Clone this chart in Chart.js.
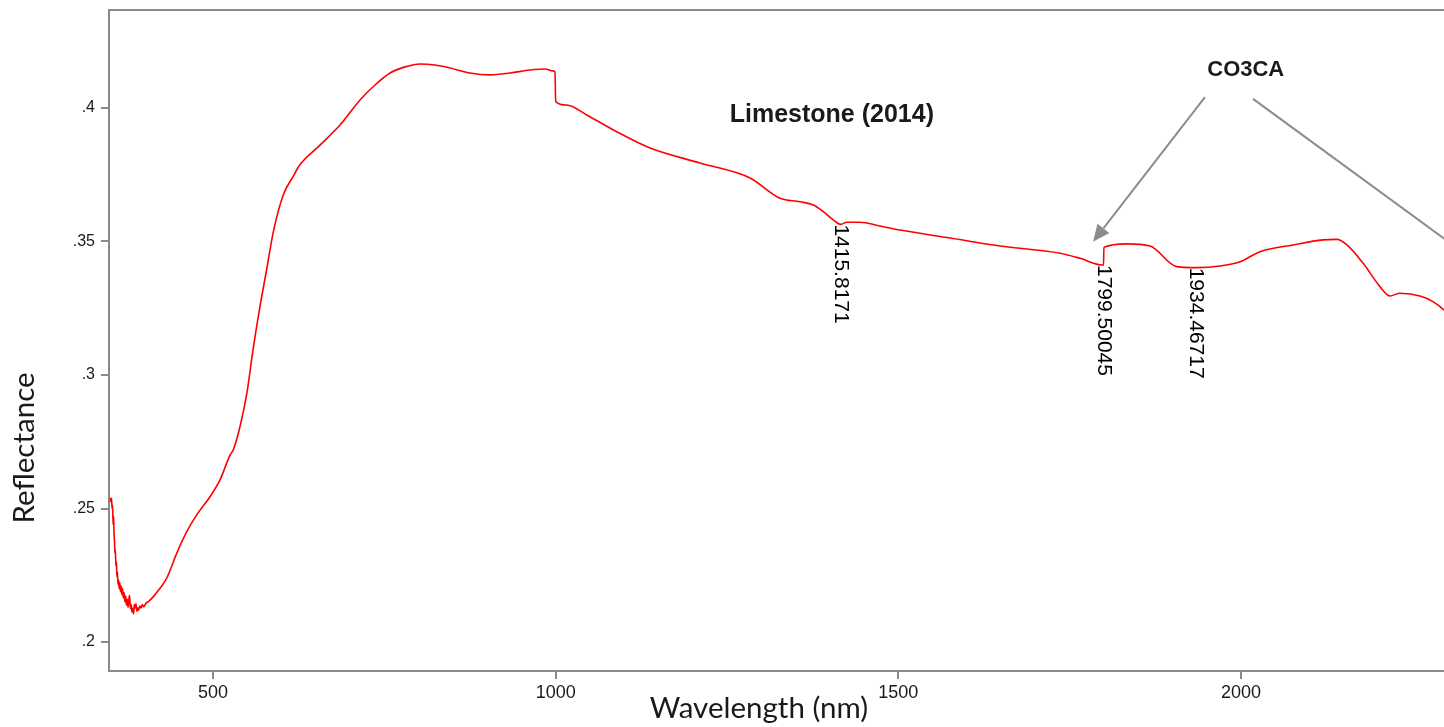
<!DOCTYPE html>
<html>
<head>
<meta charset="utf-8">
<title>Limestone (2014)</title>
<script src="https://cdn.jsdelivr.net/npm/chart.js@4/dist/chart.umd.min.js"></script>
<style>
  html, body { margin: 0; padding: 0; background: #ffffff; }
  #wrap { width: 1444px; height: 727px; position: relative; }
</style>
</head>
<body>
<div id="wrap"><canvas id="spectrum" width="1444" height="727"></canvas></div>
<script>
// Reflectance spectrum of a limestone sample (nm, reflectance)
const wavelength = [
  350.0, 351.0, 351.9, 352.7, 353.4, 354.2, 355.0, 355.5, 356.2, 356.9,
  357.5, 358.2, 359.0, 359.7, 360.5, 361.3, 362.2, 363.0, 364.0, 365.0,
  366.0, 367.0, 368.0, 369.0, 370.2, 371.4, 372.5, 373.6, 374.8, 376.0,
  377.0, 378.2, 379.5, 380.6, 381.8, 383.0, 384.0, 385.2, 386.4, 387.5,
  388.8, 390.0, 391.5, 393.0, 395.0, 397.0, 399.0, 402.0, 405.6, 412.9,
  422.6, 432.4, 447.0, 461.6, 476.2, 495.6, 510.2, 524.8, 529.6, 539.4,
  549.2, 558.8, 568.6, 578.4, 588.0, 602.6, 617.2, 627.0, 656.1, 685.3,
  714.5, 736.4, 758.3, 780.2, 802.1, 823.9, 845.8, 875.0, 904.2, 933.4,
  962.6, 984.4, 996.1, 999.0, 1000.0, 1016.1, 1045.3, 1089.1, 1137.7, 1210.6,
  1283.6, 1327.4, 1356.5, 1376.0, 1390.5, 1405.1, 1415.8, 1424.7, 1444.1, 1473.3,
  1502.5, 1575.4, 1648.4, 1736.0, 1765.1, 1798.2, 1799.5, 1800.0, 1833.3, 1867.3,
  1906.2, 1934.5, 1969.4, 1998.6, 2027.8, 2075.9, 2119.7, 2140.1, 2154.7, 2178.1,
  2202.9, 2217.5, 2232.1, 2261.3, 2280.2, 2296.3, 2310.0
];
const reflectance = [
  0.2540, 0.2525, 0.2538, 0.2500, 0.2512, 0.2440, 0.2470, 0.2410, 0.2380, 0.2330,
  0.2345, 0.2285, 0.2300, 0.2245, 0.2262, 0.2215, 0.2232, 0.2200, 0.2222, 0.2188,
  0.2210, 0.2178, 0.2200, 0.2165, 0.2185, 0.2150, 0.2172, 0.2138, 0.2160, 0.2130,
  0.2155, 0.2175, 0.2125, 0.2140, 0.2112, 0.2125, 0.2105, 0.2140, 0.2128, 0.2143,
  0.2115, 0.2128, 0.2118, 0.2135, 0.2128, 0.2140, 0.2132, 0.2145, 0.2151, 0.2170,
  0.2201, 0.2239, 0.2332, 0.2413, 0.2476, 0.2544, 0.2607, 0.2700, 0.2720, 0.2807,
  0.2929, 0.3102, 0.3258, 0.3397, 0.3536, 0.3675, 0.3745, 0.3788, 0.3861, 0.3936,
  0.4030, 0.4086, 0.4131, 0.4154, 0.4165, 0.4161, 0.4150, 0.4131, 0.4124, 0.4131,
  0.4142, 0.4146, 0.4139, 0.4135, 0.4024, 0.4011, 0.3974, 0.3911, 0.3850, 0.3794,
  0.3738, 0.3662, 0.3649, 0.3637, 0.3612, 0.3581, 0.3564, 0.3572, 0.3572, 0.3558,
  0.3543, 0.3513, 0.3483, 0.3456, 0.3437, 0.3412, 0.3412, 0.3478, 0.3491, 0.3483,
  0.3406, 0.3402, 0.3408, 0.3424, 0.3462, 0.3487, 0.3506, 0.3508, 0.3487, 0.3419,
  0.3331, 0.3296, 0.3306, 0.3296, 0.3275, 0.3243, 0.3200
];

// Axis ticks
const xTickValues = [500, 1000, 1500, 2000];
const xTickLabels = ["500", "1000", "1500", "2000"];
const yTickValues = [0.2, 0.25, 0.3, 0.35, 0.4];
const yTickLabels = [".2", ".25", ".3", ".35", ".4"];

// Labelled absorption features
const featureWavelength = [1415.8171, 1799.50045, 1934.46717];
const featureReflectance = [0.3564, 0.3412, 0.3402];
const featureLabels = ["1415.8171", "1799.50045", "1934.46717"];

// Texts
const chartTitle = "Limestone (2014)";
const calloutText = "CO3CA";
const xAxisTitle = "Wavelength (nm)";
const yAxisTitle = "Reflectance";

const FRAME = '#8a8a8a';
const INK = '#1a1a1a';

const spectrumDecor = {
  id: 'spectrumDecor',
  afterDatasetsDraw(chart, args, opts) {
    const { ctx, chartArea, scales: { x, y } } = chart;
    ctx.save();
    ctx.beginPath();
    ctx.rect(chartArea.left, chartArea.top, chartArea.right - chartArea.left, chartArea.bottom - chartArea.top);
    ctx.clip();

    // feature labels, reading downwards from the spectrum
    ctx.fillStyle = '#000000';
    ctx.font = opts.featureFont;
    ctx.textAlign = 'left';
    ctx.textBaseline = 'middle';
    featureLabels.forEach((lab, i) => {
      const px = x.getPixelForValue(featureWavelength[i]);
      const py = y.getPixelForValue(featureReflectance[i]);
      ctx.save();
      ctx.translate(px, py);
      ctx.rotate(Math.PI / 2);
      ctx.fillText(lab, 0, 0);
      ctx.restore();
    });

    // title inside the plot
    ctx.font = opts.titleFont;
    ctx.fillStyle = INK;
    ctx.textAlign = 'center';
    ctx.textBaseline = 'middle';
    ctx.fillText(chartTitle, x.getPixelForValue(opts.titleAt[0]), y.getPixelForValue(opts.titleAt[1]));

    // callout with arrows
    ctx.font = opts.calloutFont;
    ctx.fillText(calloutText, x.getPixelForValue(opts.calloutAt[0]), y.getPixelForValue(opts.calloutAt[1]));
    ctx.strokeStyle = opts.arrowColor;
    ctx.fillStyle = opts.arrowColor;
    ctx.lineWidth = 2;
    opts.arrows.forEach(a => {
      const x0 = x.getPixelForValue(a.from[0]), y0 = y.getPixelForValue(a.from[1]);
      const x1 = x.getPixelForValue(a.to[0]), y1 = y.getPixelForValue(a.to[1]);
      const ang = Math.atan2(y1 - y0, x1 - x0);
      const L = 17, W = 7.5;
      const bx = x1 - L * Math.cos(ang), by = y1 - L * Math.sin(ang);
      ctx.beginPath();
      ctx.moveTo(x0, y0);
      ctx.lineTo(bx, by);
      ctx.stroke();
      ctx.beginPath();
      ctx.moveTo(x1, y1);
      ctx.lineTo(bx + W * Math.sin(ang), by - W * Math.cos(ang));
      ctx.lineTo(bx - W * Math.sin(ang), by + W * Math.cos(ang));
      ctx.closePath();
      ctx.fill();
    });
    ctx.restore();
  },
  afterDraw(chart, args, opts) {
    const { ctx, chartArea } = chart;
    ctx.save();
    // top frame line
    ctx.strokeStyle = FRAME;
    ctx.lineWidth = 2;
    ctx.beginPath();
    ctx.moveTo(chartArea.left - 1, chartArea.top);
    ctx.lineTo(chartArea.right, chartArea.top);
    ctx.stroke();

    // axis titles
    ctx.fillStyle = INK;
    ctx.font = opts.axisTitleFont;
    ctx.textAlign = 'center';
    ctx.textBaseline = 'middle';
    ctx.fillText(xAxisTitle, opts.xTitlePos[0], opts.xTitlePos[1]);
    ctx.save();
    ctx.translate(opts.yTitlePos[0], opts.yTitlePos[1]);
    ctx.rotate(-Math.PI / 2);
    ctx.fillText(yAxisTitle, 0, 0);
    ctx.restore();
    ctx.restore();
  }
};

new Chart(document.getElementById('spectrum'), {
  type: 'line',
  data: {
    datasets: [{
      label: 'Reflectance',
      data: wavelength.map((w, i) => ({ x: w, y: reflectance[i] })),
      borderColor: '#ff0000',
      borderWidth: 1.6,
      pointRadius: 0,
      cubicInterpolationMode: 'monotone',
      fill: false
    }]
  },
  plugins: [spectrumDecor],
  options: {
    responsive: false,
    devicePixelRatio: 1,
    animation: false,
    layout: { padding: { top: 10, left: 0, right: 0, bottom: 0 } },
    plugins: {
      legend: { display: false },
      tooltip: { enabled: false },
      title: { display: false },
      spectrumDecor: {
        featureFont: '21px "Liberation Sans", Arial, sans-serif',
        titleFont: 'bold 25px "Liberation Sans", Arial, sans-serif',
        calloutFont: 'bold 22px "Liberation Sans", Arial, sans-serif',
        axisTitleFont: '29.5px Lato, "Open Sans", sans-serif',
        titleAt: [1403, 0.3974],
        calloutAt: [2007, 0.4142],
        arrowColor: '#8c8c8c',
        arrows: [
          { from: [1947.5, 0.4041], to: [1784.1, 0.3499] },
          { from: [2017.6, 0.4034], to: [2345, 0.3420] }
        ],
        xTitlePos: [759, 708],
        yTitlePos: [24, 448]
      }
    },
    scales: {
      x: {
        type: 'linear',
        min: 348.2,
        max: 2296.3,
        afterBuildTicks: s => { s.ticks = xTickValues.map(v => ({ value: v })); },
        afterFit: s => { s.height = 56; s.paddingLeft = 0; s.paddingRight = 0; },
        ticks: {
          callback: (v) => xTickLabels[xTickValues.indexOf(v)],
          font: { family: '"Liberation Sans", Arial, sans-serif', size: 18 },
          color: INK,
          padding: 3,
          maxRotation: 0,
          autoSkip: false
        },
        grid: { display: true, drawOnChartArea: false, drawTicks: true, tickLength: 8, color: FRAME, lineWidth: 2 },
        border: { display: true, color: FRAME, width: 2 },
        title: { display: false }
      },
      y: {
        type: 'linear',
        min: 0.18914,
        max: 0.4367,
        afterBuildTicks: s => { s.ticks = yTickValues.map(v => ({ value: v })); },
        afterFit: s => { s.width = 109; s.paddingTop = 10; s.paddingBottom = 0; },
        ticks: {
          callback: (v) => yTickLabels[yTickValues.findIndex(t => Math.abs(t - v) < 1e-9)],
          font: { family: '"Liberation Sans", Arial, sans-serif', size: 16 },
          color: INK,
          padding: 6,
          autoSkip: false
        },
        grid: { display: true, drawOnChartArea: false, drawTicks: true, tickLength: 8, color: FRAME, lineWidth: 2 },
        border: { display: true, color: FRAME, width: 2 },
        title: { display: false }
      }
    }
  }
});
</script>
</body>
</html>
